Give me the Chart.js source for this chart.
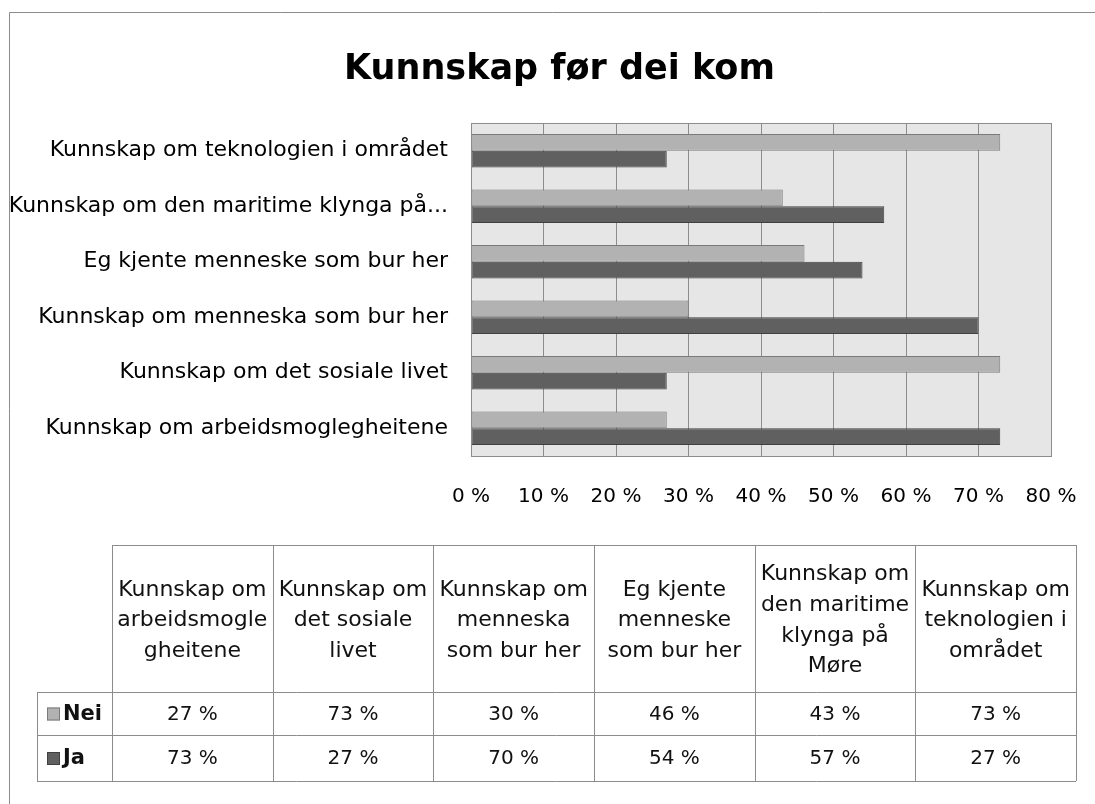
<!DOCTYPE html>
<html>
<head>
<meta charset="utf-8">
<script src="https://cdn.jsdelivr.net/npm/chart.js@4.4.1/dist/chart.umd.min.js"></script>
<style>
    body { margin: 0; background: #fff; }
    canvas { display: block; }
</style>
</head>
<body>
<canvas id="chart-item" width="1095" height="804"></canvas>
<script>
// data, same order as the table under the chart
var categories = [
    'Kunnskap om arbeidsmoglegheitene',
    'Kunnskap om det sosiale livet',
    'Kunnskap om menneska som bur her',
    'Eg kjente menneske som bur her',
    'Kunnskap om den maritime klynga på Møre',
    'Kunnskap om teknologien i området'
];
// header text of the table, broken the way the original is
var tableHeaders = [
    ['Kunnskap om', 'arbeidsmogle', 'gheitene'],
    ['Kunnskap om', 'det sosiale', 'livet'],
    ['Kunnskap om', 'menneska', 'som bur her'],
    ['Eg kjente', 'menneske', 'som bur her'],
    ['Kunnskap om', 'den maritime', 'klynga på', 'Møre'],
    ['Kunnskap om', 'teknologien i', 'området']
];
var chartTitle = 'Kunnskap før dei kom';
var seriesNames = ['Nei', 'Ja'];
var neiValues = [27, 73, 30, 46, 43, 73];
var jaValues = [73, 27, 70, 54, 57, 27];
var xTicks = [0, 10, 20, 30, 40, 50, 60, 70, 80];

var FONT = "'DejaVu Sans', sans-serif";
var lineGray = '#8c8c8c';

// white page, outer frame, grey plot background, title
var backgroundPlugin = {
    id: 'background',
    beforeDraw: function (chart) {
        var ctx = chart.ctx;
        var a = chart.chartArea;
        ctx.save();
        ctx.fillStyle = '#fff';
        ctx.fillRect(0, 0, chart.width, chart.height);
        ctx.strokeStyle = lineGray;
        ctx.lineWidth = 1;
        ctx.beginPath();
        ctx.moveTo(9.5, chart.height);
        ctx.lineTo(9.5, 12.5);
        ctx.lineTo(chart.width, 12.5);
        ctx.stroke();
        ctx.fillStyle = '#e6e6e6';
        ctx.fillRect(a.left, a.top, a.right - a.left, a.bottom - a.top);

        // title centred over the whole picture, like the original
        ctx.fillStyle = '#000';
        ctx.font = 'bold 35px ' + FONT;
        ctx.textAlign = 'center';
        ctx.textBaseline = 'alphabetic';
        ctx.fillText(chartTitle, 559.5, 79);
        ctx.restore();
    },
    afterDatasetsDraw: function (chart) {
        var ctx = chart.ctx;
        var a = chart.chartArea;
        ctx.save();
        ctx.strokeStyle = lineGray;
        ctx.lineWidth = 1;
        ctx.strokeRect(Math.round(a.left) + 0.5, Math.round(a.top) + 0.5,
            Math.round(a.right - a.left), Math.round(a.bottom - a.top));
        ctx.restore();
    }
};

// data table below the chart, built from the chart data
var tablePlugin = {
    id: 'dataTable',
    afterDraw: function (chart) {
        var ctx = chart.ctx;
        var labels = chart.data.labels;
        var sets = chart.data.datasets;
        var top = 545, headBottom = 692, rowLines = [692, 735, 781];
        var legendLeft = 37, left = 112, right = 1076;
        var colW = (right - left) / labels.length;
        ctx.save();
        ctx.strokeStyle = lineGray;
        ctx.lineWidth = 1;
        ctx.beginPath();
        ctx.moveTo(left, top + 0.5);
        ctx.lineTo(right, top + 0.5);
        rowLines.forEach(function (y) {
            ctx.moveTo(legendLeft, y + 0.5);
            ctx.lineTo(right, y + 0.5);
        });
        ctx.moveTo(legendLeft + 0.5, headBottom);
        ctx.lineTo(legendLeft + 0.5, rowLines[rowLines.length - 1]);
        for (var c = 0; c <= labels.length; c++) {
            var x = Math.round(left + c * colW) + 0.5;
            ctx.moveTo(x, top);
            ctx.lineTo(x, rowLines[rowLines.length - 1]);
        }
        ctx.stroke();

        ctx.fillStyle = '#111';
        ctx.font = '22px ' + FONT;
        ctx.textAlign = 'center';
        ctx.textBaseline = 'middle';
        var lineH = 30.7;
        var headMid = (top + headBottom) / 2 + 2;
        labels.forEach(function (lab, i) {
            var lines = tableHeaders[i];
            var cx = left + (i + 0.5) * colW;
            lines.forEach(function (t, k) {
                ctx.fillText(t, cx, headMid + (k - (lines.length - 1) / 2) * lineH);
            });
        });

        sets.forEach(function (ds, r) {
            var midY = (rowLines[r] + rowLines[r + 1]) / 2 + 1;
            ds.data.forEach(function (v, i) {
                ctx.textAlign = 'center';
                ctx.font = '20px ' + FONT;
                ctx.fillStyle = '#111';
                ctx.fillText(v + ' %', left + (i + 0.5) * colW, midY);
            });
            // legend key
            ctx.fillStyle = ds.backgroundColor;
            ctx.fillRect(47, midY - 7, 13, 13);
            ctx.strokeStyle = ds.borderColor;
            ctx.strokeRect(47.5, midY - 6.5, 12, 12);
            ctx.fillStyle = '#111';
            ctx.textAlign = 'left';
            ctx.font = 'bold 21px ' + FONT;
            ctx.fillText(ds.label, 63, midY);
        });
        ctx.restore();
    }
};

var ctx = document.getElementById('chart-item').getContext('2d');
var chart = new Chart(ctx, {
    type: 'bar',
    data: {
        labels: categories,
        datasets: [{
            label: seriesNames[0],
            data: neiValues,
            backgroundColor: '#b2b2b2',
            borderColor: '#7a7a7a',
            borderWidth: 1,
            borderSkipped: false
        }, {
            label: seriesNames[1],
            data: jaValues,
            backgroundColor: '#606060',
            borderColor: '#404040',
            borderWidth: 1,
            borderSkipped: false
        }]
    },
    options: {
        indexAxis: 'y',
        responsive: false,
        devicePixelRatio: 1,
        animation: false,
        categoryPercentage: 0.6,
        barPercentage: 1.0,
        layout: {
            padding: { left: 4, right: 44, top: 123, bottom: 294 }
        },
        plugins: {
            legend: { display: false },
            tooltip: { enabled: false },
            title: { display: false }
        },
        scales: {
            x: {
                min: 0,
                max: 80,
                afterBuildTicks: function (scale) {
                    scale.ticks = xTicks.map(function (v) { return { value: v }; });
                },
                grid: { color: lineGray, drawTicks: false },
                border: { display: false },
                ticks: {
                    color: '#000',
                    padding: 29,
                    font: { family: FONT, size: 20 },
                    callback: function (v) { return v + ' %'; }
                },
                afterFit: function (scale) {
                    scale.height = 54;
                    scale.paddingLeft = 0;
                    scale.paddingRight = 0;
                }
            },
            y: {
                reverse: true,
                grid: { display: false, drawTicks: false },
                border: { display: false },
                ticks: {
                    color: '#000',
                    padding: 23,
                    font: { family: FONT, size: 22 },
                    callback: function (v) {
                        var lab = this.getLabelForValue(v);
                        return lab.length > 34 ? lab.slice(0, 34) + '...' : lab;
                    }
                },
                afterFit: function (scale) {
                    scale.width = 467;
                    scale.paddingTop = 0;
                    scale.paddingBottom = 0;
                }
            }
        }
    },
    plugins: [backgroundPlugin, tablePlugin]
});
</script>
</body>
</html>
